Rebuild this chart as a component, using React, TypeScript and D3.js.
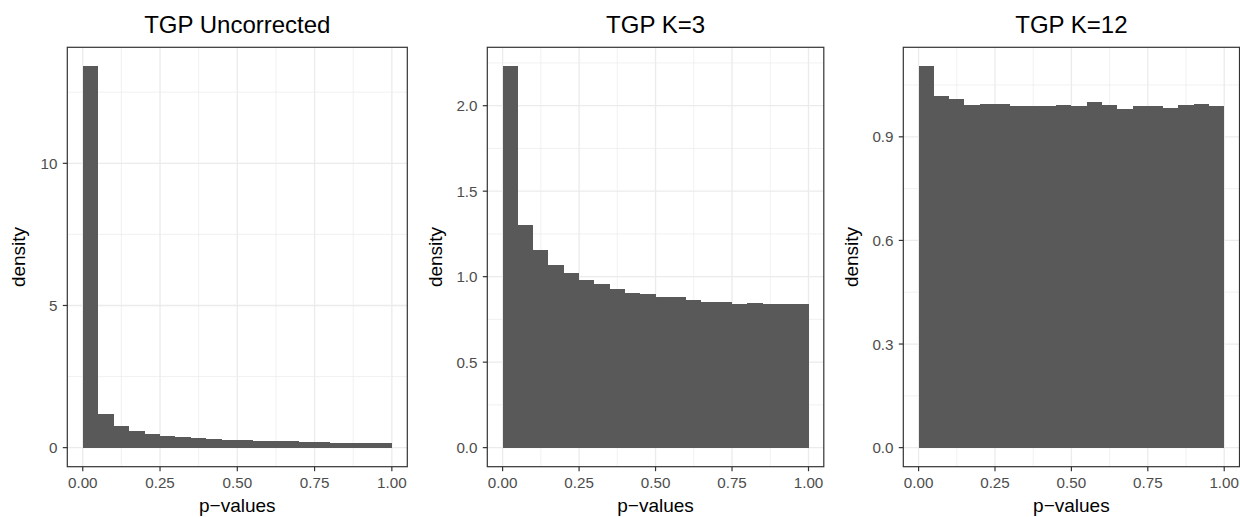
import React from "react";
import * as d3 from "d3";

const binEdges = [0, 0.05, 0.1, 0.15, 0.2, 0.25, 0.3, 0.35, 0.4, 0.45, 0.5, 0.55, 0.6, 0.65, 0.7, 0.75, 0.8, 0.85, 0.9, 0.95, 1.0];

const uncorrected = [13.41, 1.168, 0.747, 0.572, 0.467, 0.408, 0.361, 0.326, 0.291, 0.258, 0.254, 0.23, 0.222, 0.22, 0.215, 0.212, 0.18, 0.172, 0.17, 0.17];
const k3 = [2.23, 1.30, 1.156, 1.068, 1.02, 0.98, 0.957, 0.928, 0.905, 0.898, 0.88, 0.88, 0.864, 0.852, 0.852, 0.84, 0.846, 0.84, 0.84, 0.84];
const k12 = [1.104, 1.018, 1.009, 0.992, 0.994, 0.994, 0.989, 0.989, 0.989, 0.992, 0.989, 1.0, 0.992, 0.98, 0.989, 0.989, 0.983, 0.992, 0.994, 0.989];

const titles = ["TGP Uncorrected", "TGP K=3", "TGP K=12"];
const xTicks = [0, 0.25, 0.5, 0.75, 1.0];
const xTickLabels = ["0.00", "0.25", "0.50", "0.75", "1.00"];
const xMinor = [0.125, 0.375, 0.625, 0.875];
const yTicks1 = [0, 5, 10];
const yTickLabels1 = ["0", "5", "10"];
const yMinor1 = [2.5, 7.5, 12.5];
const yTicks2 = [0, 0.5, 1.0, 1.5, 2.0];
const yTickLabels2 = ["0.0", "0.5", "1.0", "1.5", "2.0"];
const yMinor2 = [0.25, 0.75, 1.25, 1.75, 2.25];
const yTicks3 = [0, 0.3, 0.6, 0.9];
const yTickLabels3 = ["0.0", "0.3", "0.6", "0.9"];
const yMinor3 = [0.15, 0.45, 0.75, 1.05];

const xLabel = "p\u2212values";
const yLabel = "density";

const panels = [
  { title: titles[0], values: uncorrected, yTicks: yTicks1, yLabels: yTickLabels1, yMinor: yMinor1, left: 67.3, right: 407.3, yTitleX: 25 },
  { title: titles[1], values: k3, yTicks: yTicks2, yLabels: yTickLabels2, yMinor: yMinor2, left: 487.3, right: 823.8, yTitleX: 441.5 },
  { title: titles[2], values: k12, yTicks: yTicks3, yLabels: yTickLabels3, yMinor: yMinor3, left: 903.3, right: 1239.5, yTitleX: 857.5 },
];

const TOP = 47.3;
const BOTTOM = 466.7;
const FONT = "'Liberation Sans', Arial, Helvetica, sans-serif";
const BAR = "#595959";
const GRID = "#EBEBEB";
const DARK = "#333333";
const TICKTXT = "#4D4D4D";

function Panel({ p }: { p: any }) {
  const x = d3.scaleLinear().domain([-0.05, 1.05]).range([p.left, p.right]);
  const ymax = d3.max(p.values as number[]) as number;
  const y = d3.scaleLinear().domain([-0.05 * ymax, 1.05 * ymax]).range([BOTTOM, TOP]);
  const cx = (p.left + p.right) / 2;
  const cy = (TOP + BOTTOM) / 2;
  return (
    <g>
      <rect x={p.left} y={TOP} width={p.right - p.left} height={BOTTOM - TOP} fill="white" />
      {xMinor.map((v) => (
        <line key={"xm" + v} x1={x(v)} x2={x(v)} y1={TOP} y2={BOTTOM} stroke={GRID} strokeWidth={0.7} />
      ))}
      {p.yMinor.map((v: number) => (
        <line key={"ym" + v} x1={p.left} x2={p.right} y1={y(v)} y2={y(v)} stroke={GRID} strokeWidth={0.7} />
      ))}
      {xTicks.map((v) => (
        <line key={"xg" + v} x1={x(v)} x2={x(v)} y1={TOP} y2={BOTTOM} stroke={GRID} strokeWidth={1.3} />
      ))}
      {p.yTicks.map((v: number) => (
        <line key={"yg" + v} x1={p.left} x2={p.right} y1={y(v)} y2={y(v)} stroke={GRID} strokeWidth={1.3} />
      ))}
      {p.values.map((v: number, i: number) => (
        <rect
          key={"b" + i}
          x={x(binEdges[i])}
          width={x(binEdges[i + 1]) - x(binEdges[i])}
          y={y(v)}
          height={y(0) - y(v)}
          fill={BAR}
          shapeRendering="crispEdges"
        />
      ))}
      <rect x={p.left} y={TOP} width={p.right - p.left} height={BOTTOM - TOP} fill="none" stroke={DARK} strokeWidth={1.2} />
      {xTicks.map((v, i) => (
        <g key={"xt" + v}>
          <line x1={x(v)} x2={x(v)} y1={BOTTOM} y2={BOTTOM + 4.5} stroke={DARK} strokeWidth={1.2} />
          <text x={x(v)} y={487.7} textAnchor="middle" fontSize={15.2} fill={TICKTXT} fontFamily={FONT}>
            {xTickLabels[i]}
          </text>
        </g>
      ))}
      {p.yTicks.map((v: number, i: number) => (
        <g key={"yt" + v}>
          <line x1={p.left - 4.5} x2={p.left} y1={y(v)} y2={y(v)} stroke={DARK} strokeWidth={1.2} />
          <text x={p.left - 9.8} y={y(v)} dy="0.36em" textAnchor="end" fontSize={15.2} fill={TICKTXT} fontFamily={FONT}>
            {p.yLabels[i]}
          </text>
        </g>
      ))}
      <text x={cx} y={511.5} textAnchor="middle" fontSize={19} fill="black" fontFamily={FONT}>
        {xLabel}
      </text>
      <text
        transform={`translate(${p.yTitleX},${cy}) rotate(-90)`}
        textAnchor="middle"
        fontSize={19}
        fill="black"
        fontFamily={FONT}
      >
        {yLabel}
      </text>
      <text x={cx} y={33.3} textAnchor="middle" fontSize={24} fill="black" fontFamily={FONT}>
        {p.title}
      </text>
    </g>
  );
}

export default function App() {
  return (
    <svg
      width={1240}
      height={517}
      style={{ position: "absolute", left: 0, top: 0, background: "white" }}
    >
      <rect x={0} y={0} width={1240} height={517} fill="white" />
      {panels.map((p, i) => (
        <Panel key={i} p={p} />
      ))}
    </svg>
  );
}
